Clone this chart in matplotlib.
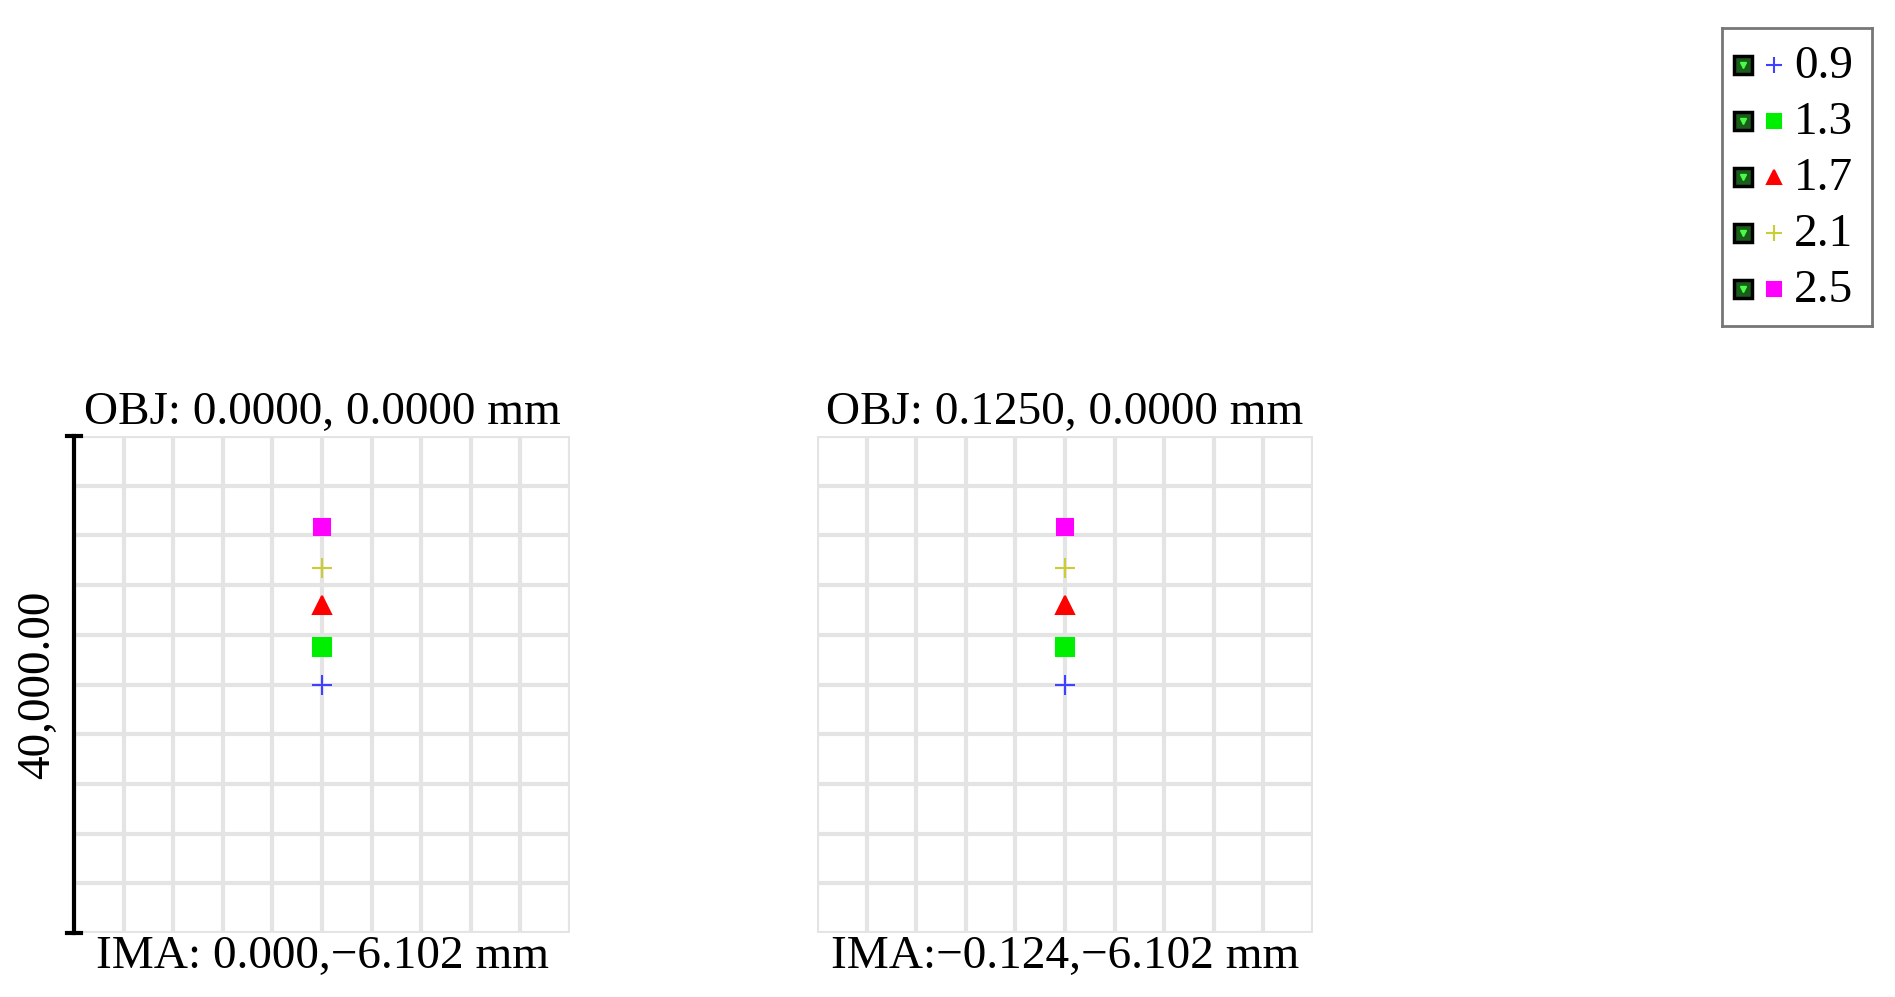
import matplotlib.pyplot as plt
from matplotlib.patches import Rectangle

plt.rcParams['font.family'] = ['Liberation Serif', 'DejaVu Serif']

W, H = 1895, 997

wavelengths = ["0.9", "1.3", "1.7", "2.1", "2.5"]
colors = ["#4040ff", "#00ee00", "#ff0000", "#cccc33", "#ff00ff"]
markers = ["+", "s", "^", "+", "s"]
sizes = [14, 13, 13, 14, 12]
spot_x = [0.0, 0.0, 0.0, 0.0, 0.0]
spot_y = [0.0, 0.152, 0.32, 0.47, 0.632]

obj_labels = ["OBJ: 0.0000, 0.0000 mm", "OBJ: 0.1250, 0.0000 mm"]
ima_labels = ["IMA: 0.000,\u22126.102 mm", "IMA:\u22120.124,\u22126.102 mm"]
scale_label = "40,000.00"

fig = plt.figure(figsize=(W / 100, H / 100), dpi=100)


def px_axes(x0, y0, x1, y1):
    return fig.add_axes([x0 / W, 1 - y1 / H, (x1 - x0) / W, (y1 - y0) / H])


panel_left = [74, 817]
for i, left in enumerate(panel_left):
    ax = px_axes(left, 436, left + 496, 933)
    ax.set_xlim(-1, 1)
    ax.set_ylim(-1, 1)
    for v in [-1 + 0.2 * k for k in range(11)]:
        ax.axvline(v, color="#e4e4e4", lw=3, zorder=0)
        ax.axhline(v, color="#e4e4e4", lw=3, zorder=0)
    for s in ax.spines.values():
        s.set_visible(False)
    ax.set_xticks([])
    ax.set_yticks([])
    for x, y, c, m, ms in zip(spot_x, spot_y, colors, markers, sizes):
        ax.plot(x, y, marker=m, color=c, ms=ms, mew=1.5, ls="none", clip_on=False)
    ax.text(0, 1.01, obj_labels[i], ha="center", va="bottom", fontsize=34)
    ax.text(0, -1.01, ima_labels[i], ha="center", va="top", fontsize=34)
    if i == 0:
        ax.plot([-1, -1], [-1, 1], color="black", lw=3, clip_on=False)
        ax.plot([-1.03, -0.97], [1, 1], color="black", lw=3, clip_on=False)
        ax.plot([-1.03, -0.97], [-1, -1], color="black", lw=3, clip_on=False)
        ax.text(-1.06, 0, scale_label, rotation=90, ha="right", va="center", fontsize=34)

# legend box
lax = px_axes(1722, 28, 1872, 326)
lax.set_xlim(0, 150)
lax.set_ylim(298, 0)
lax.set_xticks([])
lax.set_yticks([])
for s in lax.spines.values():
    s.set_color("#777777")
    s.set_linewidth(2)
for k, (lab, c, m, ms) in enumerate(zip(wavelengths, colors, markers, sizes)):
    yc = 37 + k * 56
    lax.add_patch(Rectangle((12, yc - 9), 18, 18, facecolor="#1a5c1a", edgecolor="black", lw=2.5))
    lax.plot(21, yc, marker="v", color="#44ff44", ms=5, ls="none")
    lax.plot(52, yc, marker=m, color=c, ms=ms * 0.8, mew=1.5, ls="none")
    lax.text(72, yc + 2, lab, ha="left", va="center", fontsize=34)

fig.savefig("out.png", dpi=100)
